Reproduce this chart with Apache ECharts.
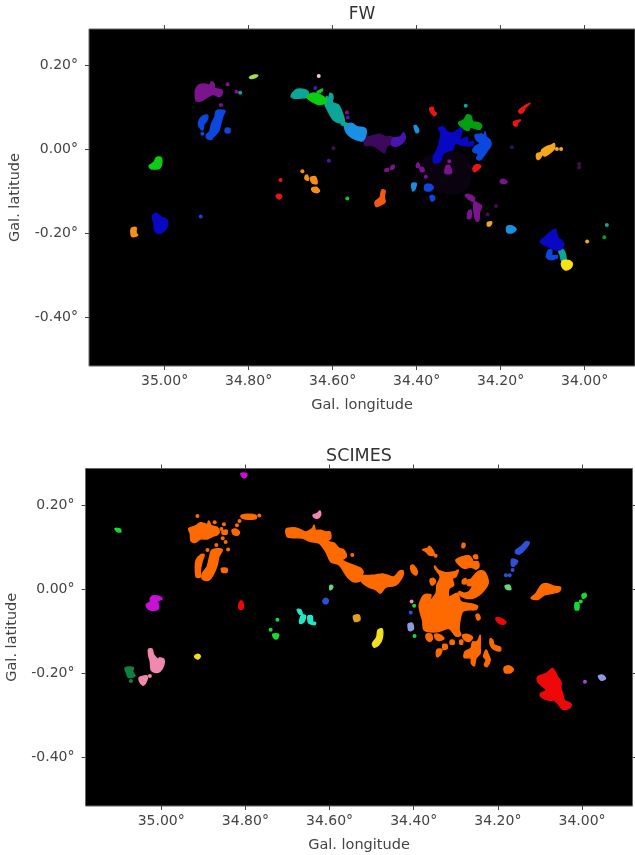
<!DOCTYPE html>
<html>
<head>
<meta charset="utf-8">
<style>html,body{margin:0;padding:0;background:#fff}#c{width:635px;height:855px}</style>
<script src="https://cdn.jsdelivr.net/npm/echarts@6/dist/echarts.min.js"></script>
</head>
<body>
<div id="c"></div>
<script>
// Tick values (degrees)
const lonTicks = [35.0, 34.8, 34.6, 34.4, 34.2, 34.0];
const latTicks = [0.2, 0, -0.2, -0.4];

// Every region is a flat list: lon, lat, lon, lat ... in degrees.
// A region with one pair is a single small spot.
const fwHaze = [[34.376,-.018,34.344,-.010,34.296,-.010,34.272,-.034,34.276,-.090,34.304,-.106,34.352,-.098,34.384,-.074,34.388,-.038]];
const fwPurple = [
 [34.9265,.1405,34.919,.1523,34.904,.1547,34.893,.1523,34.888,.1603,34.882,.1547,34.880,.1444,34.864,.1405,34.864,.1285,34.872,.1246,34.884,.1301,34.899,.1230,34.911,.1150,34.925,.1150,34.927,.1285],
 [34.850,.154],[34.866,.105],[34.829,.136],[34.566,.087],
 [34.400,-.036,34.396,-.033,34.393,-.042,34.400,-.044],
 [34.392,-.044,34.385,-.044,34.382,-.052,34.390,-.054],
 [34.475,-.048,34.467,-.046,34.467,-.052,34.475,-.053],
 [34.461,-.042,34.454,-.038,34.454,-.046,34.461,-.049],
 [34.378,-.066],[34.322,-.029],
 [34.330,-.041,34.322,-.039,34.317,-.057,34.332,-.058],
 [34.201,-.076,34.193,-.072,34.184,-.080,34.197,-.082],
 [34.284,-.110,34.276,-.108,34.263,-.115,34.263,-.124,34.272,-.122],
 [34.263,-.126,34.253,-.130,34.245,-.136,34.250,-.150,34.252,-.171,34.258,-.171,34.263,-.153],
 [34.276,-.147,34.270,-.147,34.271,-.165,34.279,-.165]
];
const fwDimPurple = [[34.598,.002],[34.173,.004],[34.013,-.036],[34.013,-.044],[34.211,-.136],[34.231,-.156]];
const fwDeepPurple = [[34.525,.025,34.507,.031,34.487,.035,34.475,.029,34.459,.029,34.455,.023,34.459,.013,34.471,.006,34.477,-.009,34.491,.001,34.507,.009,34.523,.009]];
const fwIndigo = [[34.457,.025,34.439,.029,34.431,.039,34.427,.025,34.435,.013,34.447,.007,34.459,.009],[34.641,.145],[34.609,-.028],[34.564,.075]];
const fwBlue = [
 [34.919,.065,34.911,.077,34.898,.081,34.899,.069,34.907,.057,34.909,.045,34.915,.049,34.919,.057],
 [34.910,.036],
 [34.877,.091,34.856,.091,34.861,.079,34.866,.061,34.872,.041,34.885,.028,34.888,.023,34.899,.025,34.901,.033,34.893,.041,34.888,.061,34.880,.077],
 [34.855,.049,34.845,.049,34.845,.039,34.855,.039],
 [34.914,-.161],
 [34.261,.033,34.245,.036,34.239,.033,34.237,.041,34.234,.029,34.225,.021,34.223,.009,34.233,-.006,34.249,-.026,34.257,-.022,34.253,-.012,34.266,-.006,34.261,.006,34.249,.013,34.257,.021],
 [34.380,-.086,34.368,-.084,34.360,-.092,34.369,-.100,34.380,-.098],
 [34.368,-.112,34.360,-.111,34.357,-.120,34.364,-.124],
 [34.086,-.241,34.078,-.241,34.078,-.253,34.065,-.254,34.066,-.260,34.082,-.263,34.091,-.257]
];
const fwNavy = [
 [35.028,-.157,35.019,-.153,35.007,-.163,34.995,-.168,34.993,-.181,35.001,-.195,35.015,-.201,35.024,-.193,35.025,-.177,35.028,-.168],
 [34.348,.049,34.336,.052,34.327,.041,34.312,.039,34.300,.047,34.292,.049,34.296,.029,34.298,.021,34.279,.028,34.279,.017,34.265,.017,34.266,.009,34.279,.007,34.292,.009,34.308,.013,34.314,-.001,34.336,-.010,34.344,-.030,34.358,-.033,34.360,-.018,34.350,.001,34.345,.021,34.342,.037],
 [34.106,-.221,34.094,-.209,34.070,-.191,34.064,-.209,34.050,-.225,34.054,-.237,34.066,-.241,34.086,-.233]
];
const fwTeal = [
 [34.699,.126,34.689,.140,34.677,.143,34.661,.139,34.657,.130,34.661,.123,34.677,.121,34.693,.121],
 [34.618,.114,34.612,.118,34.602,.117,34.599,.110,34.586,.105,34.578,.089,34.572,.065,34.586,.063,34.598,.069,34.606,.081,34.612,.093,34.618,.105],
 [34.615,.125,34.609,.123,34.606,.133,34.600,.129,34.600,.117,34.612,.117],
 [34.580,.065,34.566,.061,34.566,.055,34.578,.057],
 [34.820,.134],[34.283,.103],[33.947,-.181],
 [34.062,-.241,34.052,-.239,34.045,-.253,34.045,-.266,34.054,-.268,34.058,-.253]
];
const fwGreen = [
 [34.660,.126,34.649,.133,34.629,.129,34.614,.117,34.618,.109,34.633,.106,34.649,.113,34.660,.121],
 [34.637,.136,34.624,.143,34.625,.138,34.633,.133],
 [35.037,-.040,35.026,-.032,35.019,-.020,35.008,-.021,35.007,-.036,35.012,-.046,35.026,-.048,35.034,-.046],
 [34.565,-.118]
];
const fwDarkGreen = [[34.300,.063,34.288,.069,34.280,.081,34.271,.079,34.266,.065,34.253,.063,34.245,.057,34.249,.047,34.261,.049,34.272,.052,34.276,.044,34.287,.047,34.296,.055],[33.953,-.210]];
const fwSky = [
 [34.570,.057,34.554,.061,34.542,.053,34.522,.049,34.521,.033,34.530,.019,34.546,.023,34.562,.033,34.570,.045],
 [34.406,.055,34.400,.055,34.395,.041,34.401,.039],
 [34.411,-.082,34.401,-.082,34.404,-.096,34.409,-.100,34.411,-.094],
 [34.185,-.185,34.173,-.183,34.163,-.191,34.171,-.199,34.184,-.199]
];
const fwLime = [[34.798,.171,34.788,.176,34.778,.175,34.784,.170,34.795,.168]];
const fwPale = [[34.633,.174]];
const fwOrange = [
 [35.079,-.189,35.068,-.187,35.068,-.199,35.064,-.205,35.074,-.209,35.079,-.207],
 [34.672,-.053],
 [34.665,-.064,34.660,-.062,34.658,-.074,34.665,-.072],
 [34.653,-.068,34.641,-.066,34.637,-.082,34.647,-.082,34.652,-.075],
 [34.650,-.094,34.639,-.091,34.631,-.099,34.636,-.104,34.647,-.101]
];
const fwRedOrange = [[34.483,-.098,34.475,-.099,34.477,-.114,34.475,-.126,34.485,-.133,34.496,-.137,34.499,-.126,34.487,-.115]];
const fwRed = [
 [34.724,-.074],
 [34.734,-.110,34.725,-.108,34.721,-.114,34.727,-.119,34.733,-.115],
 [34.369,.097,34.361,.099,34.358,.089,34.353,.085,34.358,.079,34.366,.087],
 [34.266,-.046,34.257,-.037,34.247,-.041,34.255,-.050,34.263,-.054],
 [34.157,.091,34.145,.101,34.139,.105,34.130,.109,34.134,.105,34.142,.097,34.145,.089,34.153,.085],
 [34.169,.065,34.153,.069,34.160,.061,34.161,.055,34.168,.056]
];
const fwGold = [
 [34.102,-.002,34.090,.006,34.080,.009,34.072,.013,34.072,.001,34.078,-.006,34.094,-.017,34.102,-.012],
 [34.114,-.012,34.103,-.009,34.103,-.018,34.110,-.025,34.114,-.022],
 [34.066,0],[34.056,0],[33.994,-.220],
 [34.231,-.175,34.221,-.174,34.225,-.183,34.231,-.183]
];
const fwYellow = [[34.054,-.268,34.046,-.265,34.034,-.267,34.029,-.274,34.034,-.284,34.046,-.288,34.054,-.280]];

const scOrange = [
 [34.935,.144,34.919,.150,34.907,.158,34.891,.154,34.887,.162,34.881,.151,34.867,.147,34.862,.136,34.867,.129,34.879,.125,34.891,.119,34.907,.119,34.919,.111,34.929,.114,34.931,.132],
 [34.914,.174],[34.873,.159],[34.851,.154],[34.857,.143],[34.814,.162],[34.820,.152],
 [34.832,.140,34.824,.143,34.814,.136,34.817,.129,34.828,.130],
 [34.855,.138,34.844,.140,34.844,.131,34.855,.131],
 [34.847,.112],[34.854,.121],[34.869,.105],[34.890,.093],[34.841,.094],
 [34.811,.174,34.796,.178,34.776,.176,34.774,.168,34.792,.166,34.806,.168],[34.767,.175],
 [34.917,.069,34.907,.081,34.898,.082,34.903,.065,34.907,.045,34.907,.029,34.917,.029,34.919,.053],
 [34.879,.093,34.855,.094,34.863,.077,34.867,.057,34.875,.037,34.887,.021,34.902,.024,34.902,.037,34.891,.053,34.886,.073],
 [34.857,.049,34.844,.049,34.844,.040,34.855,.040],
 [34.703,.143,34.685,.146,34.673,.143,34.657,.136,34.641,.144,34.637,.152,34.633,.140,34.621,.140,34.608,.136,34.599,.136,34.597,.121,34.605,.114,34.589,.109,34.577,.097,34.566,.093,34.560,.077,34.570,.069,34.554,.061,34.534,.053,34.526,.049,34.526,.021,34.542,.017,34.558,.029,34.577,.057,34.597,.065,34.609,.089,34.625,.109,34.645,.113,34.665,.121,34.689,.122,34.701,.125],
 [34.546,.081],
 [34.526,.049,34.520,.041,34.522,.033,34.494,.033,34.474,.036,34.463,.033,34.447,.029,34.433,.043,34.425,.043,34.427,.029,34.443,.009,34.467,.004,34.479,-.010,34.490,-.002,34.510,.006,34.526,.021],
 [34.407,.055,34.401,.057,34.391,.041,34.395,.033,34.405,.041],
 [34.379,.094,34.367,.097,34.363,.102,34.355,.093,34.351,.081,34.363,.081,34.371,.089],[34.348,.079],
 [34.284,.109,34.278,.107,34.280,.099,34.285,.099],
 [34.300,.069,34.284,.077,34.268,.079,34.260,.069,34.260,.065,34.247,.065,34.245,.053,34.252,.047,34.264,.052,34.280,.049,34.292,.057],
 [34.258,.079,34.250,.081,34.248,.073,34.256,.073],
 [34.350,.055,34.342,.045,34.324,.039,34.304,.041,34.294,.045,34.300,.029,34.308,.025,34.305,.009,34.316,.001,34.316,-.018,34.296,-.010,34.288,-.030,34.260,-.036,34.248,-.041,34.252,-.049,34.272,-.050,34.284,-.054,34.290,-.074,34.292,-.098,34.288,-.110,34.300,-.112,34.316,-.094,34.344,-.102,34.375,-.098,34.379,-.074,34.385,-.054,34.387,-.038,34.375,-.014,34.359,-.014,34.363,-.030,34.347,-.010,34.345,.009,34.337,.029,34.350,.050],
 [34.292,-.006,34.280,-.010,34.268,-.006,34.260,.009,34.264,.021,34.256,.033,34.244,.043,34.232,.041,34.224,.025,34.223,.013,34.232,-.002,34.244,-.014,34.260,-.022,34.276,-.022,34.292,-.014],
 [34.284,.021,34.276,.025,34.276,.013,34.284,.013],
 [34.272,.021,34.256,.021,34.260,.009,34.272,.009],
 [34.360,.024,34.352,.025,34.348,.017,34.356,.009,34.361,.017],
 [34.252,-.062,34.246,-.060,34.242,-.070,34.248,-.074],
 [34.370,-.108,34.358,-.108,34.356,-.120,34.363,-.125,34.370,-.118],
 [34.350,-.108,34.336,-.110,34.328,-.118,34.340,-.123,34.348,-.118],
 [34.284,-.110,34.272,-.108,34.260,-.115,34.268,-.125,34.280,-.120],
 [34.331,-.133,34.322,-.132,34.320,-.141,34.329,-.144],
 [34.313,-.123,34.305,-.122,34.304,-.131,34.313,-.131],
 [34.290,-.122,34.284,-.122,34.284,-.131,34.290,-.131],
 [34.345,-.145,34.333,-.144,34.337,-.157,34.345,-.161],
 [34.260,-.126,34.252,-.126,34.247,-.122,34.242,-.110,34.242,-.141,34.242,-.153,34.252,-.165,34.256,-.183,34.263,-.177,34.264,-.165,34.280,-.163,34.278,-.149,34.264,-.141],
 [34.218,-.118,34.212,-.122,34.209,-.133,34.194,-.139,34.194,-.147,34.209,-.144,34.218,-.133],
 [34.228,-.145,34.223,-.155,34.218,-.169,34.226,-.185,34.232,-.181,34.228,-.169,34.234,-.161],
 [34.185,-.187,34.173,-.183,34.163,-.191,34.169,-.199,34.183,-.199],
 [34.121,-.022,34.109,-.010,34.097,.009,34.085,.013,34.067,.007,34.051,.004,34.054,-.006,34.070,-.010,34.089,-.014,34.105,-.025]
];
const scRed = [
 [34.105,-.209,34.085,-.201,34.070,-.189,34.058,-.209,34.050,-.221,34.050,-.237,34.046,-.249,34.042,-.265,34.026,-.274,34.030,-.284,34.046,-.286,34.058,-.272,34.066,-.265,34.078,-.265,34.097,-.257,34.099,-.249,34.085,-.241,34.097,-.229,34.105,-.221],
 [34.205,-.070,34.197,-.068,34.181,-.078,34.185,-.084,34.199,-.080],
 [34.813,-.030,34.808,-.029,34.805,-.046,34.814,-.048,34.816,-.038]
];
const scYellow = [
 [34.485,-.098,34.475,-.095,34.475,-.118,34.483,-.133,34.494,-.139,34.498,-.130,34.488,-.115],
 [34.921,-.161,34.913,-.155,34.907,-.160,34.913,-.167]
];
const scBlue = [
 [34.157,.093,34.145,.101,34.133,.113,34.125,.110,34.137,.093,34.149,.083,34.158,.086],
 [34.167,.071,34.153,.067,34.161,.055,34.167,.055],
 [34.181,.033],[34.172,.033],[34.165,.045],[34.407,-.056],
 [34.616,-.028,34.609,-.022,34.603,-.026,34.605,-.034,34.613,-.034]
];
const scMint = [[34.183,.007,34.173,.009,34.169,-.001,34.178,-.001],[34.599,.008,34.593,.008,34.593,.002,34.599,-.002]];
const scGreen = [
 [34.000,-.014,33.992,-.010,33.990,-.018,33.998,-.022],
 [34.016,-.033,34.008,-.033,34.008,-.049,34.016,-.049],[34.003,-.030],
 [34.398,-.112],[34.399,-.040],[34.724,-.073],[34.740,-.097],
 [34.735,-.108,34.721,-.108,34.724,-.118,34.731,-.118],
 [35.110,.144,35.098,.143,35.096,.136,35.106,.138]
];
const scPeriwinkle = [[33.961,-.207,33.951,-.205,33.944,-.213,33.955,-.217],[34.413,-.083,34.403,-.082,34.401,-.096,34.411,-.099]];
const scViolet = [[33.993,-.221]];
const scMagenta = [
 [34.811,.275,34.797,.275,34.798,.267,34.805,.265],
 [35.026,-.022,35.018,-.016,35.002,-.019,34.998,-.024,35.008,-.029,35.006,-.046,35.018,-.051,35.030,-.048,35.036,-.038,35.026,-.030]
];
const scCyan = [
 [34.677,-.049,34.669,-.049,34.665,-.060,34.671,-.060],
 [34.666,-.062,34.657,-.064,34.661,-.078,34.670,-.082,34.671,-.074],
 [34.651,-.064,34.641,-.065,34.640,-.078,34.633,-.080,34.635,-.085,34.648,-.082,34.651,-.077]
];
const scGold = [[34.543,-.064,34.530,-.062,34.528,-.074,34.540,-.077]];
const scPink = [
 [35.030,-.144,35.022,-.143,35.018,-.156,35.006,-.169,35.005,-.164,34.994,-.167,34.994,-.181,35.002,-.195,35.014,-.199,35.024,-.193,35.026,-.173,35.030,-.157],
 [35.052,-.211,35.034,-.207,35.034,-.217,35.042,-.229,35.050,-.223],[35.027,-.207],[34.405,-.030],
 [34.639,.176,34.629,.180,34.623,.186,34.621,.176,34.629,.168,34.637,.171]
];
const scDarkGreen = [[35.086,-.188,35.066,-.187,35.068,-.197,35.062,-.207,35.078,-.211,35.082,-.201],[35.072,-.219]];

// Colour for each group, in drawing order
const fwGroups = [
 [fwHaze,'#0b0210'],[fwDimPurple,'#3c1048'],[fwDeepPurple,'#3b0a5c'],[fwPurple,'#7c1490'],[fwIndigo,'#4a14b4'],
 [fwSky,'#1a90e4'],[fwTeal,'#0ca698'],[fwGreen,'#0ccc14'],[fwDarkGreen,'#00a010'],[fwBlue,'#0c48e0'],[fwNavy,'#0808c4'],
 [fwLime,'#a0e050'],[fwPale,'#f4c8e4'],[fwOrange,'#f89018'],[fwRedOrange,'#f45a10'],[fwRed,'#ee1414'],[fwGold,'#f4a818'],[fwYellow,'#fae010']
];
const scGroups = [
 [scOrange,'#ff6a00'],[scRed,'#ee0808'],[scYellow,'#f0e020'],[scBlue,'#3050dc'],[scMint,'#60d880'],[scGreen,'#14dc30'],
 [scPeriwinkle,'#9098e0'],[scViolet,'#a840d8'],[scMagenta,'#c810d8'],[scCyan,'#20e8c8'],[scGold,'#e0a020'],[scPink,'#f088b0'],[scDarkGreen,'#108040']
];

const degLabel = v => v.toFixed(2) + '°';
const textColor = '#444';
const lonAxis = (grid, pos, labelled, name) => ({
  type: 'value', gridIndex: grid, position: pos, inverse: true, min: 33.88, max: 35.18,
  name: name, nameLocation: 'middle', nameGap: 32,
  nameTextStyle: {color: textColor, fontSize: 14.5, fontFamily: 'DejaVu Sans'},
  splitLine: {show: false}, axisLine: {show: false, onZero: false},
  axisTick: {show: true, length: 4, lineStyle: {color: '#444'}, customValues: lonTicks},
  axisLabel: {show: labelled, margin: 8, color: textColor, fontSize: 14, fontFamily: 'DejaVu Sans', formatter: degLabel, customValues: lonTicks}
});
const latAxis = (grid, pos, labelled, name, top, bottom, gap) => ({
  type: 'value', gridIndex: grid, position: pos, min: bottom, max: top,
  name: name, nameLocation: 'middle', nameGap: gap,
  nameTextStyle: {color: textColor, fontSize: 14.5, fontFamily: 'DejaVu Sans'},
  splitLine: {show: false}, axisLine: {show: false, onZero: false},
  axisTick: {show: true, length: 4, lineStyle: {color: '#444'}, customValues: latTicks},
  axisLabel: {show: labelled, margin: 11, color: textColor, fontSize: 14, fontFamily: 'DejaVu Sans', formatter: degLabel, customValues: latTicks}
});
const regionSeries = (groups, axisIndex) => groups.map(([regions, color]) => ({
  type: 'custom', coordinateSystem: 'cartesian2d', xAxisIndex: axisIndex, yAxisIndex: axisIndex,
  silent: true, animation: false, clip: true,
  data: regions.map(r => [r[0], r[1]]),
  encode: {x: 0, y: 1},
  renderItem: (params, api) => {
    const r = regions[params.dataIndex];
    if (r.length === 2) {
      const c = api.coord([r[0], r[1]]);
      return {type: 'circle', shape: {cx: c[0], cy: c[1], r: 2}, style: {fill: color}};
    }
    const points = [];
    for (let i = 0; i < r.length; i += 2) points.push(api.coord([r[i], r[i + 1]]));
    return {type: 'polygon', shape: {points: points, smooth: 0.3}, style: {fill: color, stroke: color, lineWidth: 1.4, lineJoin: 'round'}};
  }
}));

const frame = {show: true, backgroundColor: '#000', borderColor: '#666', borderWidth: 1, containLabel: false, outerBoundsMode: 'none'};
const option = {
  animation: false,
  backgroundColor: '#fff',
  title: [
    {text: 'FW', left: 357, top: 1, textAlign: 'center', textStyle: {color: '#333', fontSize: 17, fontWeight: 'normal', fontFamily: 'DejaVu Sans'}},
    {text: 'SCIMES', left: 354, top: 442, textAlign: 'center', textStyle: {color: '#333', fontSize: 17.5, fontWeight: 'normal', fontFamily: 'DejaVu Sans'}}
  ],
  grid: [
    Object.assign({left: 89, top: 29, width: 546, height: 337}, frame),
    Object.assign({left: 85.5, top: 468.5, width: 547, height: 337.5}, frame)
  ],
  xAxis: [
    lonAxis(0, 'bottom', true, 'Gal. longitude'),
    lonAxis(1, 'bottom', true, 'Gal. longitude'),
    lonAxis(0, 'top', false, ''),
    lonAxis(1, 'top', false, '')
  ],
  yAxis: [
    latAxis(0, 'left', true, 'Gal. latitude', .2857, -.5167, 66),
    latAxis(1, 'left', true, 'Gal. latitude', .2869, -.5167, 66),
    latAxis(0, 'right', false, '', .2857, -.5167, 0),
    latAxis(1, 'right', false, '', .2869, -.5167, 0)
  ],
  series: regionSeries(fwGroups, 0).concat(regionSeries(scGroups, 1))
};
echarts.init(document.getElementById('c'), null, {renderer: 'canvas'}).setOption(option);
</script>
</body>
</html>
